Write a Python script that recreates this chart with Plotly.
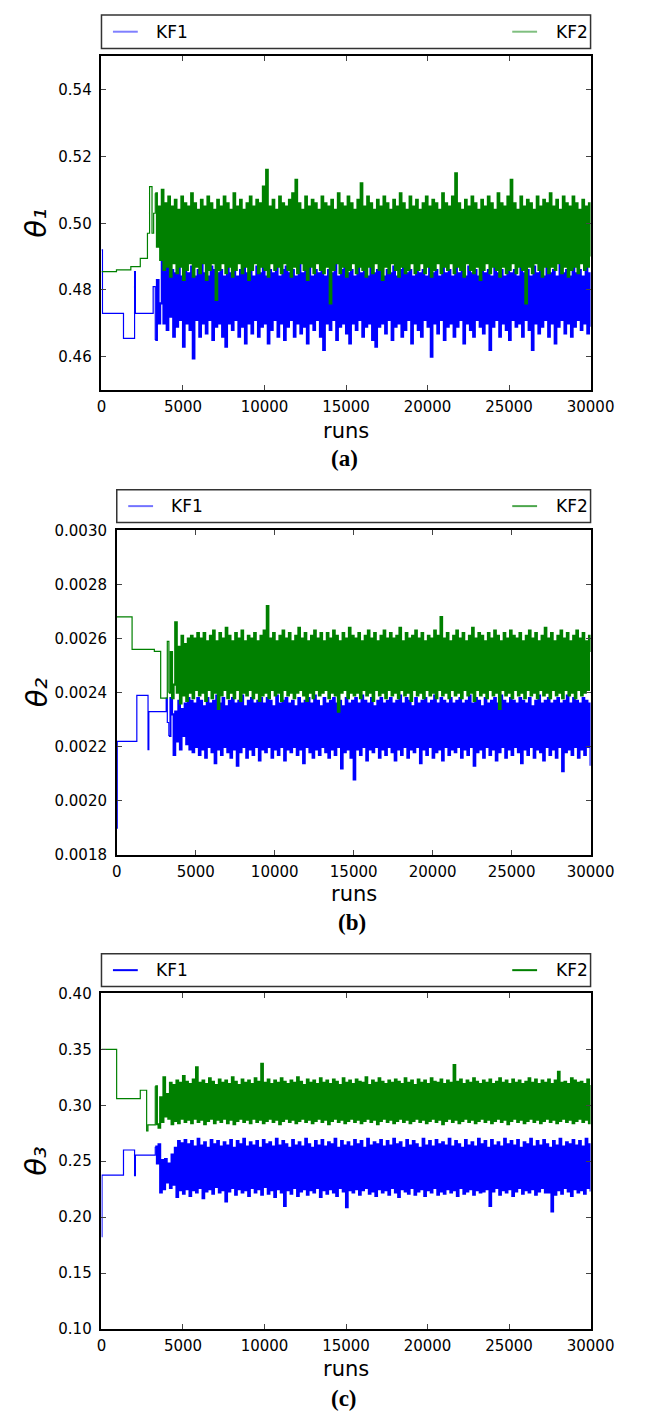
import numpy as np
import plotly.graph_objects as go

# ---------------- data ----------------
x_tick_vals = [0, 5000, 10000, 15000, 20000, 25000, 30000]
x_tick_text = ["0", "5000", "10000", "15000", "20000", "25000", "30000"]
series_names = ["KF1", "KF2"]
panel_tags = ["(a)", "(b)", "(c)"]
y_titles = ["θ₁", "θ₂", "θ₃"]

NOISE_START = 3300
NOISE_STEP = 100

# ---- panel (a): theta_1 ----
theta1_y_ticks = [0.46, 0.48, 0.50, 0.52, 0.54]
theta1_kf1_step_runs = [0, 60, 1350, 2030, 2080, 3170]
theta1_kf1_step_vals = [0.492, 0.473, 0.4655, 0.4855, 0.473, 0.481]
theta1_kf2_step_runs = [0, 920, 1800, 2380, 2820, 2950, 3100, 3200]
theta1_kf2_step_vals = [0.4855, 0.486, 0.487, 0.4895, 0.497, 0.511, 0.497, 0.503]
theta1_kf1_noise = [
    0.465, 0.483, 0.470, 0.476, 0.492, 0.470, 0.488, 0.468, 0.490, 0.472, 0.486, 0.466, 0.485, 0.469, 0.487, 0.471, 0.484, 0.463, 0.486, 0.470,
    0.485, 0.468, 0.487, 0.4595, 0.484, 0.471, 0.486, 0.466, 0.488, 0.470, 0.485, 0.467, 0.484, 0.471, 0.487, 0.465, 0.486, 0.469, 0.485, 0.470,
    0.486, 0.466, 0.484, 0.463, 0.487, 0.470, 0.485, 0.468, 0.488, 0.471, 0.484, 0.466, 0.486, 0.469, 0.487, 0.464, 0.485, 0.470, 0.486, 0.467,
    0.484, 0.471, 0.487, 0.466, 0.485, 0.469, 0.488, 0.470, 0.484, 0.464, 0.486, 0.468, 0.485, 0.471, 0.487, 0.466, 0.484, 0.470, 0.486, 0.465,
    0.487, 0.469, 0.485, 0.471, 0.486, 0.466, 0.484, 0.470, 0.488, 0.467, 0.485, 0.469, 0.486, 0.464, 0.487, 0.470, 0.484, 0.468, 0.486, 0.471,
    0.485, 0.466, 0.487, 0.462, 0.484, 0.470, 0.486, 0.468, 0.485, 0.471, 0.488, 0.465, 0.484, 0.469, 0.486, 0.470, 0.487, 0.467, 0.485, 0.464,
    0.486, 0.470, 0.484, 0.468, 0.487, 0.471, 0.485, 0.466, 0.486, 0.469, 0.484, 0.470, 0.488, 0.465, 0.485, 0.463, 0.486, 0.469, 0.487, 0.470,
    0.484, 0.467, 0.486, 0.471, 0.485, 0.465, 0.487, 0.469, 0.484, 0.470, 0.486, 0.466, 0.488, 0.468, 0.485, 0.471, 0.486, 0.464, 0.484, 0.470,
    0.487, 0.468, 0.485, 0.466, 0.486, 0.471, 0.484, 0.469, 0.487, 0.460, 0.485, 0.470, 0.486, 0.467, 0.484, 0.471, 0.488, 0.465, 0.485, 0.469,
    0.486, 0.470, 0.484, 0.466, 0.487, 0.469, 0.485, 0.471, 0.486, 0.464, 0.484, 0.470, 0.487, 0.468, 0.485, 0.466, 0.486, 0.471, 0.484, 0.469,
    0.488, 0.467, 0.485, 0.470, 0.486, 0.462, 0.484, 0.469, 0.487, 0.471, 0.485, 0.466, 0.486, 0.470, 0.484, 0.468, 0.487, 0.465, 0.485, 0.471,
    0.486, 0.469, 0.484, 0.470, 0.487, 0.466, 0.485, 0.471, 0.486, 0.468, 0.484, 0.462, 0.487, 0.470, 0.485, 0.467, 0.486, 0.469, 0.484, 0.471,
    0.487, 0.466, 0.485, 0.470, 0.486, 0.464, 0.484, 0.469, 0.488, 0.471, 0.485, 0.467, 0.486, 0.470, 0.484, 0.466, 0.487, 0.469, 0.485, 0.471,
    0.486, 0.468, 0.484, 0.470, 0.487, 0.467, 0.485, 0.469,
]
theta1_kf2_noise = [
    0.509, 0.493, 0.505, 0.489, 0.510, 0.486, 0.506, 0.487, 0.508, 0.484, 0.505, 0.488, 0.507, 0.485, 0.504, 0.487, 0.508, 0.483, 0.506, 0.486,
    0.505, 0.488, 0.509, 0.484, 0.506, 0.487, 0.504, 0.485, 0.507, 0.488, 0.505, 0.483, 0.508, 0.486, 0.506, 0.488, 0.504, 0.477, 0.507, 0.486,
    0.505, 0.488, 0.508, 0.485, 0.506, 0.487, 0.504, 0.484, 0.509, 0.486, 0.505, 0.488, 0.507, 0.485, 0.504, 0.487, 0.506, 0.483, 0.508, 0.486,
    0.505, 0.488, 0.507, 0.485, 0.506, 0.487, 0.511, 0.486, 0.516, 0.484, 0.505, 0.488, 0.507, 0.486, 0.504, 0.487, 0.508, 0.485, 0.506, 0.488,
    0.505, 0.486, 0.507, 0.484, 0.509, 0.487, 0.513, 0.485, 0.506, 0.488, 0.504, 0.486, 0.508, 0.483, 0.505, 0.487, 0.507, 0.485, 0.506, 0.488,
    0.504, 0.486, 0.508, 0.485, 0.506, 0.487, 0.505, 0.476, 0.507, 0.486, 0.504, 0.488, 0.509, 0.485, 0.506, 0.487, 0.505, 0.484, 0.508, 0.486,
    0.506, 0.488, 0.504, 0.485, 0.507, 0.487, 0.512, 0.486, 0.505, 0.484, 0.508, 0.487, 0.506, 0.485, 0.504, 0.488, 0.507, 0.486, 0.505, 0.483,
    0.508, 0.487, 0.506, 0.485, 0.504, 0.488, 0.507, 0.486, 0.505, 0.484, 0.509, 0.487, 0.506, 0.485, 0.504, 0.486, 0.508, 0.488, 0.505, 0.485,
    0.507, 0.486, 0.504, 0.488, 0.506, 0.485, 0.508, 0.487, 0.505, 0.484, 0.507, 0.486, 0.506, 0.488, 0.504, 0.485, 0.509, 0.487, 0.506, 0.486,
    0.505, 0.488, 0.508, 0.485, 0.515, 0.487, 0.506, 0.486, 0.504, 0.484, 0.507, 0.488, 0.505, 0.486, 0.508, 0.485, 0.506, 0.487, 0.504, 0.483,
    0.507, 0.486, 0.505, 0.488, 0.508, 0.485, 0.506, 0.487, 0.504, 0.486, 0.509, 0.484, 0.506, 0.487, 0.505, 0.485, 0.508, 0.486, 0.513, 0.488,
    0.506, 0.485, 0.504, 0.487, 0.508, 0.486, 0.505, 0.476, 0.507, 0.487, 0.506, 0.485, 0.504, 0.488, 0.508, 0.486, 0.505, 0.484, 0.507, 0.487,
    0.506, 0.485, 0.509, 0.487, 0.505, 0.486, 0.507, 0.488, 0.504, 0.485, 0.508, 0.487, 0.506, 0.484, 0.505, 0.486, 0.508, 0.487, 0.506, 0.485,
    0.504, 0.488, 0.507, 0.486, 0.505, 0.487, 0.506, 0.490,
]

# ---- panel (b): theta_2 ----
theta2_y_ticks = [0.0018, 0.0020, 0.0022, 0.0024, 0.0026, 0.0028, 0.0030]
theta2_kf1_step_runs = [0, 30, 1270, 1980, 2030, 3130, 3200]
theta2_kf1_step_vals = [0.0019, 0.00222, 0.00239, 0.00219, 0.00233, 0.00238, 0.00229]
theta2_kf2_step_runs = [0, 970, 2380, 2780, 3200]
theta2_kf2_step_vals = [0.00268, 0.00256, 0.002553, 0.00238, 0.00259]
theta2_kf1_noise = [
    0.00224, 0.00238, 0.00232, 0.00217, 0.00233, 0.00222, 0.00237, 0.00219, 0.00234, 0.00224, 0.00236, 0.00221, 0.00238, 0.00219, 0.00237, 0.00218, 0.00236, 0.00220, 0.00238, 0.00217,
    0.00237, 0.00219, 0.00235, 0.00216, 0.00238, 0.00220, 0.00236, 0.00218, 0.00237, 0.00214, 0.00239, 0.00219, 0.00236, 0.00217, 0.00238, 0.00220, 0.00235, 0.00218, 0.00237, 0.00216,
    0.00238, 0.00219, 0.00236, 0.00213, 0.00237, 0.00218, 0.00239, 0.00220, 0.00235, 0.00216, 0.00237, 0.00219, 0.00238, 0.00217, 0.00236, 0.00220, 0.00237, 0.00215, 0.00238, 0.00219,
    0.00236, 0.00218, 0.00238, 0.00220, 0.00237, 0.00216, 0.00235, 0.00219, 0.00239, 0.00217, 0.00236, 0.00220, 0.00237, 0.00215, 0.00238, 0.00219, 0.00236, 0.00218, 0.00237, 0.00220,
    0.00235, 0.00217, 0.00238, 0.00219, 0.00236, 0.00214, 0.00237, 0.00220, 0.00238, 0.00218, 0.00236, 0.00216, 0.00239, 0.00219, 0.00237, 0.00217, 0.00235, 0.00220, 0.00238, 0.00218,
    0.00236, 0.00216, 0.00237, 0.00219, 0.00238, 0.00217, 0.00236, 0.00220, 0.00237, 0.00212, 0.00235, 0.00218, 0.00238, 0.00219, 0.00236, 0.00216, 0.00237, 0.00208, 0.00238, 0.00219,
    0.00236, 0.00217, 0.00239, 0.00220, 0.00237, 0.00215, 0.00236, 0.00219, 0.00238, 0.00218, 0.00235, 0.00220, 0.00237, 0.00216, 0.00238, 0.00219, 0.00236, 0.00217, 0.00237, 0.00220,
    0.00238, 0.00218, 0.00236, 0.00215, 0.00237, 0.00219, 0.00239, 0.00217, 0.00236, 0.00220, 0.00238, 0.00216, 0.00237, 0.00219, 0.00235, 0.00218, 0.00238, 0.00220, 0.00236, 0.00214,
    0.00237, 0.00219, 0.00238, 0.00217, 0.00236, 0.00220, 0.00237, 0.00216, 0.00239, 0.00218, 0.00236, 0.00219, 0.00238, 0.00215, 0.00237, 0.00220, 0.00236, 0.00217, 0.00238, 0.00219,
    0.00236, 0.00218, 0.00237, 0.00220, 0.00238, 0.00216, 0.00236, 0.00219, 0.00237, 0.00217, 0.00239, 0.00220, 0.00236, 0.00213, 0.00238, 0.00218, 0.00237, 0.00219, 0.00235, 0.00216,
    0.00238, 0.00220, 0.00236, 0.00217, 0.00237, 0.00219, 0.00238, 0.00215, 0.00236, 0.00218, 0.00239, 0.00220, 0.00237, 0.00216, 0.00236, 0.00219, 0.00238, 0.00217, 0.00237, 0.00220,
    0.00236, 0.00218, 0.00238, 0.00214, 0.00237, 0.00219, 0.00236, 0.00217, 0.00238, 0.00220, 0.00235, 0.00216, 0.00237, 0.00219, 0.00239, 0.00218, 0.00236, 0.00215, 0.00237, 0.00220,
    0.00238, 0.00217, 0.00236, 0.00219, 0.00237, 0.00216, 0.00238, 0.00220, 0.00236, 0.00211, 0.00237, 0.00218, 0.00239, 0.00219, 0.00236, 0.00217, 0.00238, 0.00220, 0.00237, 0.00216,
    0.00236, 0.00219, 0.00238, 0.00217, 0.00237, 0.00220, 0.00236, 0.00213,
]
theta2_kf2_noise = [
    0.00240, 0.00255, 0.00238, 0.00243, 0.00266, 0.00240, 0.00257, 0.00236, 0.00261, 0.00239, 0.00258, 0.00237, 0.00260, 0.00240, 0.00261, 0.00238, 0.00260, 0.00241, 0.00262, 0.00239,
    0.00260, 0.00240, 0.00262, 0.00237, 0.00259, 0.00241, 0.00261, 0.00238, 0.00263, 0.00240, 0.00259, 0.00234, 0.00262, 0.00239, 0.00260, 0.00241, 0.00264, 0.00238, 0.00261, 0.00240,
    0.00259, 0.00238, 0.00262, 0.00241, 0.00260, 0.00237, 0.00263, 0.00240, 0.00259, 0.00239, 0.00261, 0.00241, 0.00260, 0.00238, 0.00262, 0.00240, 0.00259, 0.00237, 0.00261, 0.00239,
    0.00263, 0.00240, 0.00272, 0.00238, 0.00260, 0.00241, 0.00262, 0.00239, 0.00259, 0.00240, 0.00261, 0.00237, 0.00263, 0.00241, 0.00260, 0.00239, 0.00262, 0.00240, 0.00259, 0.00238,
    0.00261, 0.00240, 0.00264, 0.00241, 0.00260, 0.00239, 0.00262, 0.00237, 0.00259, 0.00240, 0.00261, 0.00238, 0.00263, 0.00241, 0.00260, 0.00239, 0.00262, 0.00240, 0.00259, 0.00241,
    0.00262, 0.00238, 0.00260, 0.00240, 0.00263, 0.00239, 0.00261, 0.00233, 0.00259, 0.00240, 0.00262, 0.00241, 0.00260, 0.00238, 0.00264, 0.00240, 0.00261, 0.00239, 0.00260, 0.00240,
    0.00262, 0.00238, 0.00259, 0.00241, 0.00261, 0.00239, 0.00263, 0.00240, 0.00260, 0.00237, 0.00262, 0.00241, 0.00259, 0.00239, 0.00261, 0.00240, 0.00263, 0.00238, 0.00260, 0.00241,
    0.00262, 0.00239, 0.00260, 0.00240, 0.00261, 0.00238, 0.00264, 0.00241, 0.00259, 0.00239, 0.00262, 0.00240, 0.00260, 0.00237, 0.00261, 0.00241, 0.00263, 0.00239, 0.00260, 0.00240,
    0.00262, 0.00238, 0.00259, 0.00241, 0.00261, 0.00239, 0.00260, 0.00240, 0.00263, 0.00238, 0.00261, 0.00241, 0.00268, 0.00239, 0.00260, 0.00240, 0.00262, 0.00238, 0.00259, 0.00241,
    0.00261, 0.00239, 0.00263, 0.00240, 0.00260, 0.00238, 0.00262, 0.00241, 0.00259, 0.00239, 0.00261, 0.00240, 0.00264, 0.00237, 0.00260, 0.00241, 0.00262, 0.00239, 0.00261, 0.00240,
    0.00259, 0.00238, 0.00262, 0.00241, 0.00260, 0.00239, 0.00263, 0.00240, 0.00261, 0.00234, 0.00259, 0.00241, 0.00262, 0.00239, 0.00260, 0.00240, 0.00263, 0.00238, 0.00261, 0.00241,
    0.00260, 0.00239, 0.00262, 0.00240, 0.00259, 0.00238, 0.00261, 0.00241, 0.00263, 0.00239, 0.00260, 0.00240, 0.00262, 0.00238, 0.00259, 0.00241, 0.00261, 0.00239, 0.00264, 0.00240,
    0.00260, 0.00238, 0.00262, 0.00241, 0.00259, 0.00239, 0.00261, 0.00240, 0.00263, 0.00238, 0.00260, 0.00241, 0.00262, 0.00239, 0.00259, 0.00240, 0.00261, 0.00238, 0.00263, 0.00241,
    0.00260, 0.00239, 0.00262, 0.00240, 0.00259, 0.00241, 0.00261, 0.00255,
]

# ---- panel (c): theta_3 ----
theta3_y_ticks = [0.10, 0.15, 0.20, 0.25, 0.30, 0.35, 0.40]
theta3_kf1_step_runs = [0, 30, 1350, 2030, 2080, 3120]
theta3_kf1_step_vals = [0.1825, 0.2375, 0.260, 0.237, 0.2555, 0.2555]
theta3_kf2_step_runs = [0, 930, 2380, 2770, 2850, 3150]
theta3_kf2_step_vals = [0.350, 0.306, 0.3134, 0.277, 0.2825, 0.2825]
theta3_kf1_noise = [
    0.263, 0.248, 0.265, 0.222, 0.251, 0.225, 0.252, 0.231, 0.248, 0.226, 0.256, 0.229, 0.262, 0.218, 0.268, 0.224, 0.266, 0.221, 0.269, 0.225,
    0.265, 0.219, 0.268, 0.224, 0.263, 0.222, 0.270, 0.226, 0.264, 0.217, 0.267, 0.223, 0.262, 0.225, 0.269, 0.221, 0.265, 0.227, 0.268, 0.222,
    0.263, 0.224, 0.267, 0.214, 0.264, 0.223, 0.269, 0.226, 0.262, 0.220, 0.268, 0.225, 0.265, 0.222, 0.270, 0.224, 0.263, 0.219, 0.267, 0.226,
    0.264, 0.222, 0.268, 0.225, 0.262, 0.220, 0.269, 0.227, 0.265, 0.221, 0.267, 0.224, 0.263, 0.218, 0.270, 0.225, 0.264, 0.222, 0.268, 0.210,
    0.265, 0.224, 0.262, 0.221, 0.269, 0.226, 0.264, 0.219, 0.267, 0.223, 0.263, 0.225, 0.270, 0.220, 0.265, 0.224, 0.262, 0.222, 0.268, 0.226,
    0.264, 0.218, 0.269, 0.224, 0.263, 0.221, 0.267, 0.225, 0.265, 0.222, 0.270, 0.219, 0.262, 0.226, 0.268, 0.223, 0.264, 0.209, 0.267, 0.224,
    0.263, 0.222, 0.269, 0.225, 0.265, 0.220, 0.268, 0.224, 0.262, 0.226, 0.270, 0.221, 0.264, 0.223, 0.267, 0.219, 0.265, 0.225, 0.269, 0.222,
    0.263, 0.224, 0.268, 0.220, 0.264, 0.226, 0.270, 0.222, 0.265, 0.218, 0.267, 0.225, 0.262, 0.223, 0.269, 0.221, 0.264, 0.226, 0.268, 0.220,
    0.265, 0.223, 0.262, 0.225, 0.270, 0.219, 0.264, 0.224, 0.268, 0.222, 0.263, 0.226, 0.269, 0.220, 0.265, 0.223, 0.267, 0.221, 0.264, 0.225,
    0.270, 0.222, 0.263, 0.224, 0.268, 0.219, 0.265, 0.226, 0.262, 0.221, 0.269, 0.223, 0.264, 0.225, 0.267, 0.220, 0.263, 0.224, 0.270, 0.222,
    0.265, 0.223, 0.268, 0.225, 0.262, 0.210, 0.269, 0.223, 0.264, 0.226, 0.267, 0.220, 0.263, 0.224, 0.270, 0.222, 0.265, 0.225, 0.268, 0.219,
    0.264, 0.223, 0.269, 0.226, 0.262, 0.221, 0.267, 0.224, 0.265, 0.222, 0.270, 0.225, 0.263, 0.220, 0.268, 0.223, 0.264, 0.226, 0.269, 0.222,
    0.265, 0.222, 0.262, 0.205, 0.268, 0.220, 0.264, 0.224, 0.270, 0.221, 0.263, 0.226, 0.267, 0.223, 0.265, 0.219, 0.269, 0.225, 0.264, 0.222,
    0.268, 0.224, 0.263, 0.221, 0.270, 0.226, 0.265, 0.223,
]
theta3_kf2_noise = [
    0.317, 0.283, 0.280, 0.307, 0.285, 0.325, 0.290, 0.310, 0.288, 0.320, 0.283, 0.318, 0.286, 0.322, 0.284, 0.320, 0.288, 0.326, 0.285, 0.321,
    0.287, 0.319, 0.284, 0.323, 0.288, 0.334, 0.285, 0.320, 0.287, 0.322, 0.283, 0.319, 0.286, 0.324, 0.288, 0.321, 0.284, 0.318, 0.287, 0.323,
    0.285, 0.320, 0.288, 0.322, 0.284, 0.319, 0.287, 0.325, 0.283, 0.321, 0.286, 0.318, 0.288, 0.323, 0.285, 0.320, 0.287, 0.322, 0.284, 0.319,
    0.288, 0.324, 0.285, 0.321, 0.287, 0.337, 0.284, 0.320, 0.286, 0.323, 0.288, 0.319, 0.285, 0.322, 0.287, 0.320, 0.283, 0.324, 0.286, 0.321,
    0.288, 0.319, 0.285, 0.322, 0.287, 0.320, 0.284, 0.325, 0.286, 0.321, 0.288, 0.318, 0.285, 0.323, 0.287, 0.320, 0.284, 0.322, 0.286, 0.319,
    0.288, 0.324, 0.285, 0.320, 0.287, 0.322, 0.283, 0.319, 0.286, 0.323, 0.288, 0.321, 0.285, 0.318, 0.287, 0.324, 0.284, 0.320, 0.286, 0.322,
    0.288, 0.319, 0.285, 0.323, 0.287, 0.321, 0.284, 0.320, 0.286, 0.325, 0.288, 0.318, 0.285, 0.322, 0.287, 0.320, 0.283, 0.324, 0.286, 0.321,
    0.288, 0.319, 0.285, 0.322, 0.287, 0.320, 0.284, 0.323, 0.286, 0.321, 0.288, 0.319, 0.285, 0.324, 0.287, 0.320, 0.284, 0.322, 0.286, 0.318,
    0.288, 0.323, 0.285, 0.320, 0.287, 0.322, 0.284, 0.319, 0.286, 0.324, 0.288, 0.321, 0.285, 0.320, 0.287, 0.323, 0.283, 0.319, 0.286, 0.322,
    0.288, 0.320, 0.285, 0.336, 0.287, 0.321, 0.284, 0.323, 0.286, 0.319, 0.288, 0.322, 0.285, 0.320, 0.287, 0.324, 0.284, 0.321, 0.286, 0.319,
    0.288, 0.322, 0.285, 0.320, 0.287, 0.323, 0.284, 0.319, 0.286, 0.321, 0.288, 0.324, 0.285, 0.320, 0.287, 0.322, 0.283, 0.319, 0.286, 0.323,
    0.288, 0.320, 0.285, 0.322, 0.287, 0.319, 0.284, 0.321, 0.286, 0.324, 0.288, 0.320, 0.285, 0.323, 0.287, 0.319, 0.284, 0.322, 0.286, 0.320,
    0.288, 0.323, 0.285, 0.319, 0.287, 0.322, 0.284, 0.330, 0.286, 0.320, 0.288, 0.321, 0.285, 0.319, 0.287, 0.324, 0.284, 0.322, 0.286, 0.320,
    0.288, 0.321, 0.285, 0.319, 0.287, 0.323, 0.284, 0.318,
]

# ---------------- styling / layout ----------------
W, H = 648, 1420
BLUE = "#0000ff"
GREEN = "#008000"
TICK_FONT = dict(family="DejaVu Sans", size=15, color="black")


def px_x(p):
    return p / W


def px_y(p):
    return 1 - p / H


panels = [
    dict(kf1=(theta1_kf1_step_runs, theta1_kf1_step_vals, theta1_kf1_noise),
         kf2=(theta1_kf2_step_runs, theta1_kf2_step_vals, theta1_kf2_noise),
         yticks=theta1_y_ticks, yrange=[0.45, 0.55], fmt="{:.2f}",
         box=(101, 613, 6, 40), plot=(101, 613, 48, 386), runs_y=427, cap_y=455,
         leg_cols=("rgba(0,0,255,0.5)", "rgba(0,128,0,0.5)")),
    dict(kf1=(theta2_kf1_step_runs, theta2_kf1_step_vals, theta2_kf1_noise),
         kf2=(theta2_kf2_step_runs, theta2_kf2_step_vals, theta2_kf2_noise),
         yticks=theta2_y_ticks, yrange=[0.0018, 0.0030], fmt="{:.4f}",
         box=(117, 613, 487, 520), plot=(117, 613, 528, 857), runs_y=896, cap_y=925,
         leg_cols=("rgba(0,0,255,0.55)", "rgba(0,128,0,0.7)")),
    dict(kf1=(theta3_kf1_step_runs, theta3_kf1_step_vals, theta3_kf1_noise),
         kf2=(theta3_kf2_step_runs, theta3_kf2_step_vals, theta3_kf2_noise),
         yticks=theta3_y_ticks, yrange=[0.10, 0.40], fmt="{:.2f}",
         box=(101, 613, 957, 990), plot=(101, 613, 997, 1337), runs_y=1377, cap_y=1407,
         leg_cols=(BLUE, GREEN)),
]

fig = go.Figure()
shapes = []
annotations = []

for i, p in enumerate(panels):
    n = "" if i == 0 else str(i + 1)
    xa, ya = "x" + n, "y" + n
    for (step_runs, step_vals, noise), color, name in zip((p["kf1"], p["kf2"]), (BLUE, GREEN), series_names):
        noise_runs = [NOISE_START + NOISE_STEP * k for k in range(len(noise))]
        # early piecewise-constant part (thin line), joined to the first noisy sample
        fig.add_trace(go.Scatter(x=list(step_runs) + noise_runs[:1], y=list(step_vals) + list(noise[:1]),
                                 mode="lines", name=name, showlegend=False,
                                 line=dict(color=color, width=1.2, shape="hv"),
                                 xaxis=xa, yaxis=ya, hoverinfo="skip"))
        # dense noisy part
        fig.add_trace(go.Scatter(x=noise_runs, y=list(noise), mode="lines", name=name, showlegend=False,
                                 line=dict(color=color, width=2.1, shape="hv"),
                                 xaxis=xa, yaxis=ya, hoverinfo="skip"))
    x0, x1, y0, y1 = p["plot"]
    eps = (p["yrange"][1] - p["yrange"][0]) * 1e-6
    common = dict(showline=True, linecolor="black", linewidth=1.5, mirror="allticks",
                  ticks="inside", ticklen=5, tickwidth=1, tickcolor="#444",
                  showgrid=False, zeroline=False, tickfont=TICK_FONT)
    fig.update_layout(**{
        ("xaxis" + n): dict(domain=[px_x(x0), px_x(x1)], anchor=ya, range=[0, 30000],
                            tickvals=x_tick_vals, ticktext=x_tick_text, ticklabelstandoff=2, **common),
        ("yaxis" + n): dict(domain=[px_y(y1), px_y(y0)], anchor=xa,
                            range=[p["yrange"][0] - eps, p["yrange"][1] + eps],
                            tickvals=p["yticks"], ticktext=[p["fmt"].format(v) for v in p["yticks"]],
                            ticklabelstandoff=5, **common),
    })
    # legend box (matplotlib-style expanded legend above the axes)
    bx0, bx1, by0, by1 = p["box"]
    shapes.append(dict(type="rect", xref="paper", yref="paper", x0=px_x(bx0), x1=px_x(bx1),
                       y0=px_y(by1), y1=px_y(by0), line=dict(color="#333", width=1.5),
                       fillcolor="white"))
    yc = px_y((by0 + by1) / 2)
    shapes.append(dict(type="line", xref="paper", yref="paper", x0=px_x(bx0 + 12), x1=px_x(bx0 + 38),
                       y0=yc, y1=yc, line=dict(color=p["leg_cols"][0], width=2)))
    shapes.append(dict(type="line", xref="paper", yref="paper", x0=px_x(bx1 - 82), x1=px_x(bx1 - 56),
                       y0=yc, y1=yc, line=dict(color=p["leg_cols"][1], width=2)))
    annotations.append(dict(text=series_names[0], x=px_x(bx0 + 55), y=yc, xref="paper", yref="paper",
                            xanchor="left", yanchor="middle", showarrow=False,
                            font=dict(family="DejaVu Sans", size=17, color="black")))
    annotations.append(dict(text=series_names[1], x=px_x(bx1 - 38), y=yc, xref="paper", yref="paper",
                            xanchor="left", yanchor="middle", showarrow=False,
                            font=dict(family="DejaVu Sans", size=17, color="black")))
    # axis titles and panel caption
    xc = px_x((x0 + x1) / 2)
    annotations.append(dict(text="runs", x=xc, y=px_y(p["runs_y"]), xref="paper", yref="paper",
                            xanchor="center", yanchor="middle", showarrow=False,
                            font=dict(family="DejaVu Sans", size=21, color="black")))
    annotations.append(dict(text=panel_tags[i], x=xc - 2 / W, y=px_y(p["cap_y"]), xref="paper",
                            yref="paper", xanchor="center", yanchor="middle", showarrow=False,
                            font=dict(family="Liberation Serif", size=23, color="black", weight="bold")))
    annotations.append(dict(text=y_titles[i], x=px_x(33), y=px_y((y0 + y1) / 2),
                            xref="paper", yref="paper", xanchor="center", yanchor="middle",
                            textangle=-90, showarrow=False,
                            font=dict(family="DejaVu Sans", size=29, color="black", style="italic")))

fig.update_layout(width=W, height=H, margin=dict(l=0, r=0, t=0, b=0),
                  paper_bgcolor="white", plot_bgcolor="white",
                  shapes=shapes, annotations=annotations, showlegend=False)

fig.write_html("out.html")
